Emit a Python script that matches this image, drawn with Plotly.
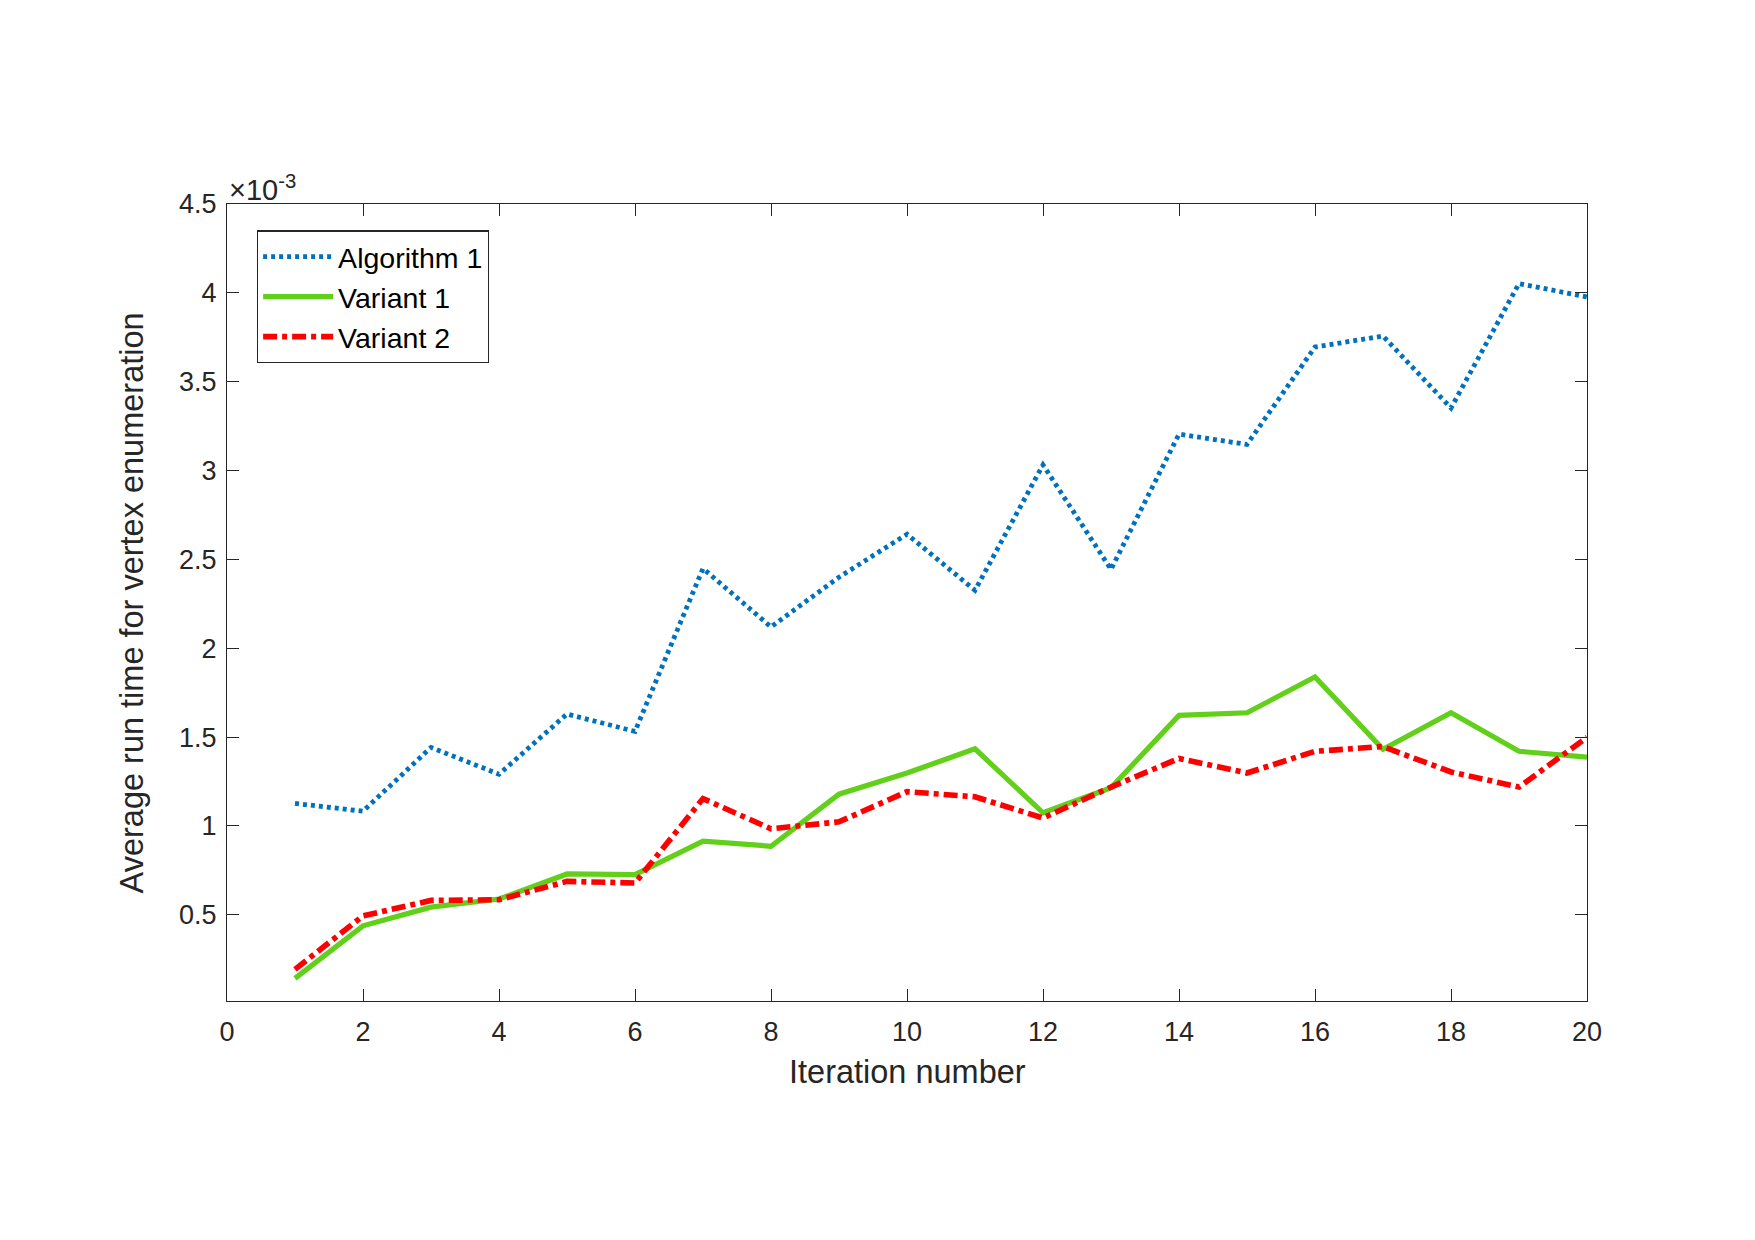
import plotly.graph_objects as go

# Data (values in seconds)
iterations = list(range(1, 21))
algorithm1 = [1.127, 1.083, 1.442, 1.291, 1.630, 1.532, 2.449, 2.120, 2.400, 2.642,
              2.326, 3.032, 2.444, 3.205, 3.147, 3.695, 3.757, 3.352, 4.052, 3.977]
variant1 = [0.142, 0.438, 0.543, 0.589, 0.730, 0.726, 0.914, 0.886, 1.179, 1.298,
            1.434, 1.074, 1.215, 1.622, 1.637, 1.838, 1.432, 1.637, 1.420, 1.387]
variant2 = [0.193, 0.494, 0.581, 0.585, 0.688, 0.679, 1.154, 0.984, 1.023, 1.193,
            1.164, 1.045, 1.219, 1.380, 1.298, 1.420, 1.447, 1.304, 1.219, 1.499]
scale = 1e-3
algorithm1 = [v * scale for v in algorithm1]
variant1 = [v * scale for v in variant1]
variant2 = [v * scale for v in variant2]

x_ticks = [0, 2, 4, 6, 8, 10, 12, 14, 16, 18, 20]
y_tick_labels = ["0.5", "1", "1.5", "2", "2.5", "3", "3.5", "4", "4.5"]
y_ticks = [float(t) * scale for t in y_tick_labels]

FONT = "Liberation Sans, Arial, Helvetica, sans-serif"
AXC = "#262626"

fig = go.Figure()
fig.add_trace(go.Scatter(x=iterations, y=algorithm1, mode="lines", name="Algorithm 1",
                         line=dict(color="#0072BD", width=4.8, dash="4px,4px")))
fig.add_trace(go.Scatter(x=iterations, y=variant1, mode="lines", name="Variant 1",
                         line=dict(color="#62D01A", width=5.2)))
fig.add_trace(go.Scatter(x=iterations, y=variant2, mode="lines", name="Variant 2",
                         line=dict(color="#FF0000", width=5.6, dash="14px,5px,5px,5px")))

axis_common = dict(showline=True, linecolor=AXC, linewidth=1.2, mirror="ticks",
                   ticks="inside", ticklen=12, tickwidth=1.2, tickcolor=AXC,
                   showgrid=False, zeroline=False,
                   tickfont=dict(family=FONT, size=27, color=AXC))

fig.update_xaxes(range=[0, 20], tickvals=x_ticks, ticktext=[str(t) for t in x_ticks],
                 ticklabelstandoff=6, **axis_common)
fig.update_yaxes(range=[0.015 * scale, 4.5 * scale], tickvals=y_ticks, ticktext=y_tick_labels,
                 ticklabelstandoff=4, **axis_common)

fig.update_layout(
    width=1755, height=1240,
    margin=dict(l=227, r=168, t=204, b=239),
    plot_bgcolor="white", paper_bgcolor="white",
    font=dict(family=FONT, color=AXC),
    showlegend=True,
    legend=dict(x=0.022, y=0.967, xanchor="left", yanchor="top",
                bgcolor="white", bordercolor=AXC, borderwidth=1.2,
                font=dict(family=FONT, size=28.5, color="black"),
                itemwidth=70, tracegroupgap=0),
    annotations=[
        dict(text="Iteration number", x=0.5, y=-0.089, xref="paper", yref="paper",
             xanchor="center", yanchor="middle", showarrow=False,
             font=dict(family=FONT, size=32.5, color=AXC)),
        dict(text="Average run time for vertex enumeration", x=-0.0699, y=0.5,
             xref="paper", yref="paper", xanchor="center", yanchor="middle",
             textangle=-90, showarrow=False,
             font=dict(family=FONT, size=32.5, color=AXC)),
        dict(text="×10<sup>-3</sup>", x=0.0, y=1.0, xref="paper", yref="paper",
             xanchor="left", yanchor="bottom", showarrow=False, yshift=-4,
             font=dict(family=FONT, size=29, color=AXC)),
    ],
)

fig.write_html("out.html")
